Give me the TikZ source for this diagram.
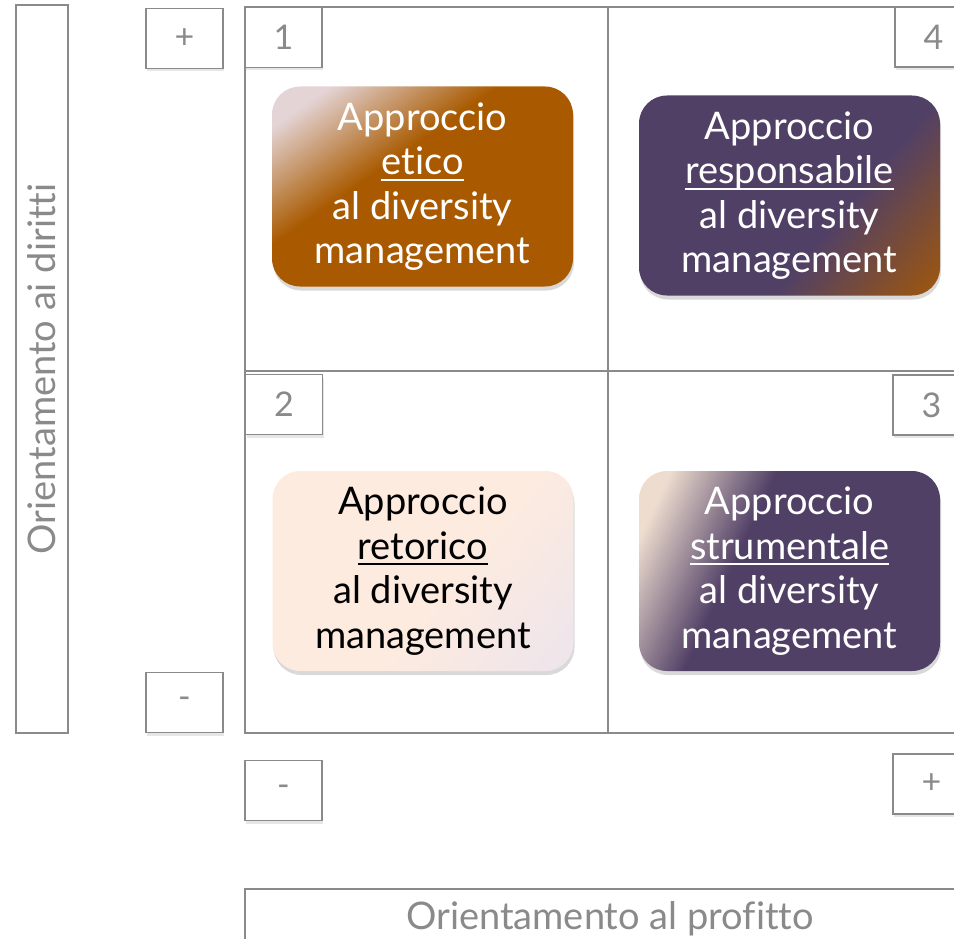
\documentclass[tikz,border=0pt]{standalone}
\usepackage{fontspec}
\setmainfont[Ligatures=NoCommon]{Lato}
\usetikzlibrary{shadows}
\newcommand{\ulword}[1]{\leavevmode\setbox0\hbox{#1}\rlap{\rule[-6pt]{\wd0}{2pt}}\box0}
\definecolor{linegray}{HTML}{8A8A8A}
\definecolor{rust}{HTML}{A95A00}
\definecolor{plum}{HTML}{514066}
\definecolor{peach}{HTML}{FDEBDF}
\definecolor{lilac}{HTML}{EDE4EC}
\definecolor{blush}{HTML}{E4D4D6}
\definecolor{cream}{HTML}{EEDDCF}
% Shadings of the four approaches
\pgfdeclarehorizontalshading{eticoshade}{100bp}{color(0bp)=(blush); color(22bp)=(blush); color(42bp)=(rust); color(100bp)=(rust)}
\pgfdeclarehorizontalshading{responsabileshade}{100bp}{color(0bp)=(plum); color(60bp)=(plum); color(88bp)=(rust); color(100bp)=(rust)}
\pgfdeclarehorizontalshading{retoricoshade}{100bp}{color(0bp)=(peach); color(55bp)=(peach); color(85bp)=(lilac); color(100bp)=(lilac)}
\pgfdeclarehorizontalshading{strumentaleshade}{100bp}{color(0bp)=(cream); color(22bp)=(cream); color(40bp)=(plum); color(100bp)=(plum)}
\tikzset{
%Define style for the grey frames
frame/.style={draw=linegray, line width=1.8pt},
tag/.style={frame, minimum width=77pt, minimum height=60pt, inner sep=0pt, text=linegray,
  font=\fontsize{34}{34}\selectfont, fill=white, drop shadow={opacity=0.2, shadow xshift=1pt, shadow yshift=-3pt}},
axislabel/.style={frame, inner sep=0pt, text=linegray, font=\fontsize{38}{38}\selectfont},
%Define style for the approach boxes
approach/.style={rounded corners=28pt, minimum width=301pt, minimum height=200pt, inner sep=0pt,
  align=center, text=white, font=\fontsize{38}{44.5}\selectfont,
  drop shadow={opacity=0.3, shadow xshift=1pt, shadow yshift=-4pt}},
}

\begin{document}
\begin{tikzpicture}[x=1pt, y=-1pt]
    \clip (0,0) rectangle (954,939);
    % Grid
    \coordinate (nw) at (245,7);
    \coordinate (se) at (985,733);
    \draw[frame] (nw) rectangle (se);
    \draw[frame] (608,7) -- (608,733);
    \draw[frame] (245,371) -- (985,371);
    % Axes
    \node[axislabel, minimum width=728pt, minimum height=52pt, rotate=90] (diritti) at (42,369) {Orientamento ai diritti};
    \node[axislabel, minimum width=730pt, minimum height=60pt, fill=white] (profitto) at (610,919) {Orientamento al profitto};
    \node[tag] (dirittipiu) at (184.5,38.5) {+};
    \node[tag] (dirittimeno) at (184.5,702.5) {-};
    \node[tag] (profittomeno) at (283.5,790.5) {-};
    \node[tag] (profittopiu) at (931.5,784) {+};
    % Quadrant numbers
    \node[tag] (q1) at (283.5,37.5) {1};
    \node[tag] (q2) at (284,404.5) {2};
    \node[tag] (q3) at (931.5,405) {3};
    \node[tag] (q4) at (933.5,37) {4};
    % Approaches
    \node[approach, shade, shading=eticoshade, shading angle=-55] (etico) at (422.5,186.5) {Approccio\\\ulword{etico}\\al diversity\\management};
    \node[approach, shade, shading=responsabileshade, shading angle=-40] (responsabile) at (789.5,195.5) {Approccio\\\ulword{responsabile}\\al diversity\\management};
    \node[approach, shade, shading=retoricoshade, shading angle=-40, text=black] (retorico) at (423,571) {Approccio\\\ulword{retorico}\\al diversity\\management};
    \node[approach, shade, shading=strumentaleshade, shading angle=-25] (strumentale) at (789.5,571) {Approccio\\\ulword{strumentale}\\al diversity\\management};
  \end{tikzpicture}
\end{document}
